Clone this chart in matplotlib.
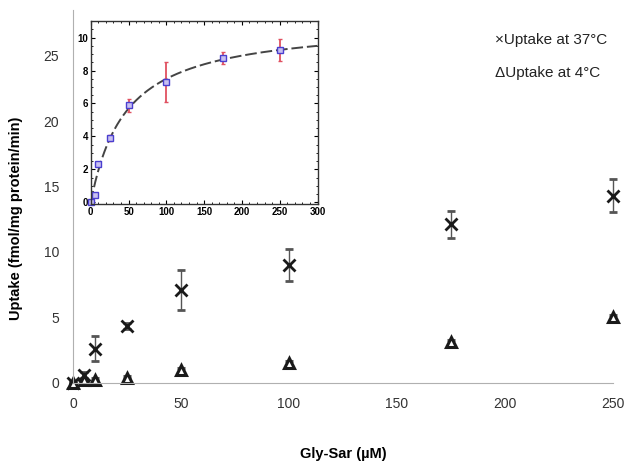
import matplotlib.pyplot as plt
import numpy as np

plt.rcParams['font.family'] = ['Liberation Sans', 'DejaVu Sans']

# Main plot data
conc = [0, 5, 10, 25, 50, 100, 175, 250]
uptake_37 = [0.0, 0.6, 2.6, 4.35, 7.1, 9.0, 12.1, 14.3]
err_37 = [0.1, 0.2, 0.95, 0.2, 1.5, 1.2, 1.0, 1.25]
uptake_4 = [0.0, 0.2, 0.25, 0.4, 1.0, 1.55, 3.1, 5.0]
err_4 = [0.05, 0.1, 0.1, 0.1, 0.15, 0.15, 0.15, 0.2]

# Inset data (specific uptake) and Michaelis-Menten fit
inset_conc = [0, 5, 10, 25, 50, 100, 175, 250]
inset_uptake = [0.0, 0.45, 2.3, 3.9, 5.9, 7.3, 8.75, 9.25]
inset_err = [0.05, 0.1, 0.1, 0.2, 0.4, 1.2, 0.35, 0.65]
vmax = 10.96
km = 46.2

fig = plt.figure(figsize=(6.35, 4.68), dpi=100)
ax = fig.add_axes([0.115, 0.182, 0.85, 0.797])

ax.errorbar(conc, uptake_37, yerr=err_37, fmt='x', color='#1a1a1a', ms=9, mew=2,
            ecolor='#555555', elinewidth=1, capsize=3, clip_on=False)
ax.errorbar(conc, uptake_4, yerr=err_4, fmt='^', mfc='white', mec='#1a1a1a', ms=6.5, mew=2.2,
            ecolor='#555555', elinewidth=1, capsize=3, clip_on=False)

ax.set_xlim(0, 250)
ax.set_ylim(0, 28.5)
ax.set_xticks([0, 50, 100, 150, 200, 250])
ax.set_yticks([0, 5, 10, 15, 20, 25])
for s in ['top', 'right']:
    ax.spines[s].set_visible(False)
for s in ['left', 'bottom']:
    ax.spines[s].set_color('#b0b0b0')
ax.tick_params(length=0, labelsize=10, labelcolor='#333333', pad=10)
ax.set_xlabel('Gly-Sar (\u00b5M)', fontsize=10.5, fontweight='bold', labelpad=26)
ax.set_ylabel('Uptake (fmol/mg protein/min)', fontsize=10.5, fontweight='bold')
ax.yaxis.set_label_coords(-0.092, 0.44)

fig.text(0.78, 0.905, '\u00d7Uptake at 37\u00b0C', fontsize=11, color='#222222')
fig.text(0.78, 0.835, '\u0394Uptake at 4\u00b0C', fontsize=11, color='#222222')

# Inset
ins = fig.add_axes([0.143, 0.564, 0.357, 0.391])
xfit = np.linspace(0, 300, 300)
ins.plot(xfit, vmax * xfit / (km + xfit), color='#444444', lw=1.4, ls=(0, (6, 2)))
ins.errorbar(inset_conc, inset_uptake, yerr=inset_err, fmt='s', mfc='#c8c0f0', mec='#4a3fd0',
             ms=5, mew=1, ecolor='#e05060', elinewidth=1.3, capsize=1.5, clip_on=False)
ins.set_xlim(0, 300)
ins.set_ylim(-0.1, 11)
ins.set_xticks([0, 50, 100, 150, 200, 250, 300])
ins.set_yticks([0, 2, 4, 6, 8, 10])
ins.minorticks_on()
ins.tick_params(which='both', direction='in', top=True, right=True, labelsize=7, pad=2)
ins.tick_params(which='major', length=3)
ins.tick_params(which='minor', length=1.5)
for lab in ins.get_xticklabels() + ins.get_yticklabels():
    lab.set_fontweight('bold')
for s in ins.spines.values():
    s.set_color('#333333')
    s.set_linewidth(1)

fig.savefig('out.png', dpi=100)
